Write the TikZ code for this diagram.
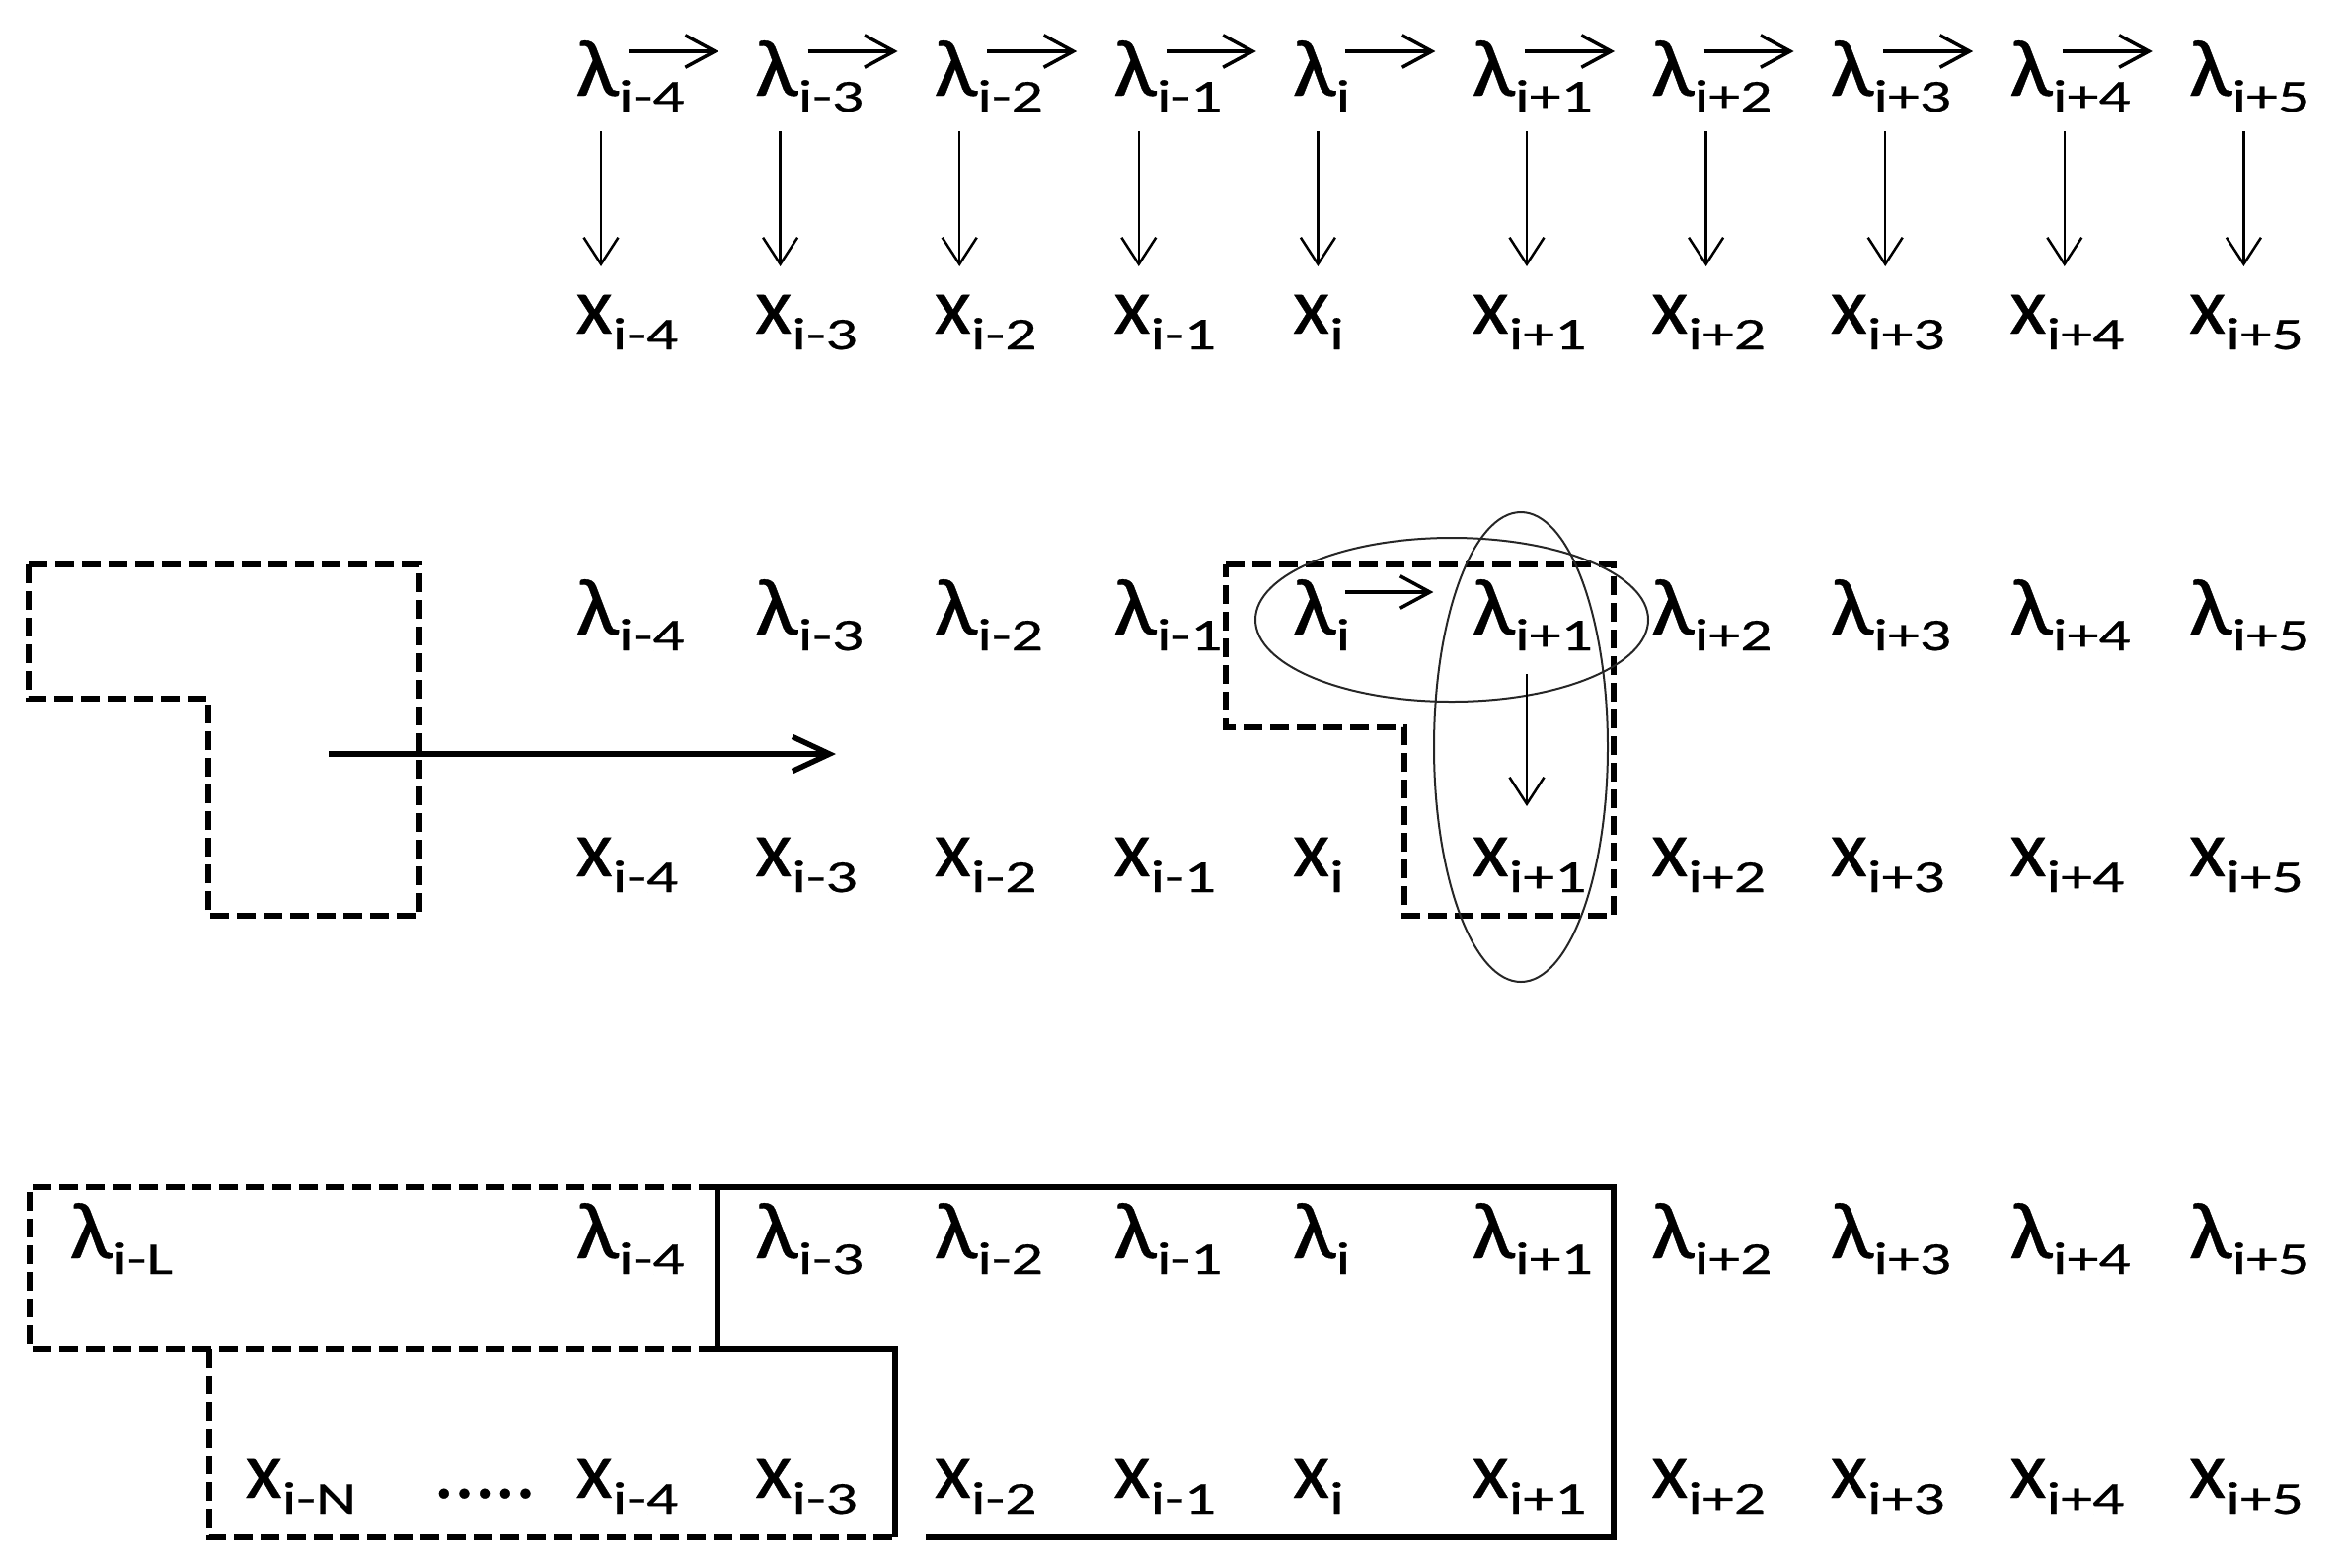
\documentclass[tikz,border=0pt]{standalone}
\usepackage{fontspec}
\usepackage{graphicx}
\setmainfont{Carlito}
\newfontfamily\lblfont{Carlito}[FakeBold=0.4]
\usetikzlibrary{arrows.meta}
\newcommand{\mainsz}{\lblfont\fontsize{32.8pt}{36pt}\selectfont}
\newcommand{\subsz}{\fontsize{18.5pt}{20pt}\selectfont}
\newcommand{\lam}[1]{\scalebox{1.15}[1]{λ}\raisebox{-6.4pt}{\scalebox{1.38}[1]{\subsz #1}}}
\newcommand{\xv}[1]{\scalebox{1.05}[1]{x}\raisebox{-6.4pt}{\scalebox{1.38}[1]{\subsz #1}}}
\begin{document}
\begin{tikzpicture}[x=0.4pt,y=-0.4pt,
  lbl/.style={anchor=base west,inner sep=0pt,font=\mainsz},
  overarr/.style={line width=1.4pt,-{Straight Barb[length=12pt,width=13pt]}},
  darr/.style={line width=1pt,-{Straight Barb[length=10.8pt,width=14pt]}},
  bigarr/.style={line width=2.2pt,-{Straight Barb[length=15pt,width=14pt]}},
  dashbox/.style={line width=2.4pt,dash pattern=on 7.6pt off 3.2pt,line join=miter},
  solidbox/.style={line width=2.2pt,line join=miter},
  grp/.style={line width=0.8pt,draw=black!85}]
\useasboundingbox (0,0) rectangle (2373,1588);

% ---------- row 1 ----------
\foreach \k/\s in {0/i-4,1/i-3,2/i-2,3/i-1,4/i,5/i+1,6/i+2,7/i+3,8/i+4,9/i+5}{
  \node[lbl] (La\k) at ({583+181.6*\k},97) {\lam{\s}};
  \node[lbl] (Xa\k) at ({583+181.6*\k},338) {\xv{\s}};
}
\foreach \k in {0,...,8}{
  \draw[overarr] ([shift={(54,-45)}]La\k.base west) -- ([shift={(145,-45)}]La\k.base west);
}
\foreach \k in {0,...,4}{
  \draw[darr] ([shift={(26,36)}]La\k.base west) -- ([shift={(26,-68)}]Xa\k.base west);
}
\foreach \k in {5,...,9}{
  \draw[darr] ([shift={(56,36)}]La\k.base west) -- ([shift={(56,-68)}]Xa\k.base west);
}

% ---------- row 2 ----------
\foreach \k/\s in {0/i-4,1/i-3,2/i-2,3/i-1,4/i,5/i+1,6/i+2,7/i+3,8/i+4,9/i+5}{
  \node[lbl] (Lb\k) at ({583+181.6*\k},643) {\lam{\s}};
  \node[lbl] (Xb\k) at ({583+181.6*\k},888) {\xv{\s}};
}
\draw[dashbox] (29,572) -- (425,572) -- (425,928) -- (211,928) -- (211,708) -- (29,708) -- cycle;
\coordinate (ta) at (333,764);
\coordinate (tb) at (847,764);
\draw[bigarr] (ta) -- (tb);
\draw[dashbox] (1242,572) -- (1635,572) -- (1635,928) -- (1423,928) -- (1423,737) -- (1242,737) -- cycle;
\draw[grp] (1471,628) ellipse [x radius=79.6pt, y radius=33.2pt];
\draw[grp] (1541,757) ellipse [x radius=35.2pt, y radius=95.2pt];
\draw[overarr] ([shift={(54,-43)}]Lb4.base west) -- ([shift={(143,-43)}]Lb4.base west);
\draw[darr] ([shift={(56,40)}]Lb5.base west) -- ([shift={(56,-71)}]Xb5.base west);

% ---------- row 3 ----------
\foreach \k/\s in {0/i-4,1/i-3,2/i-2,3/i-1,4/i,5/i+1,6/i+2,7/i+3,8/i+4,9/i+5}{
  \node[lbl] (Lc\k) at ({583+181.6*\k},1275) {\lam{\s}};
  \node[lbl] (Xc\k) at ({583+181.6*\k},1518) {\xv{\s}};
}
\node[lbl] (LcL) at (70,1275) {\lam{i-L}};
\node[lbl] (XcN) at (248,1518) {\xv{i-N}};
\node[lbl] (dots) at (439,1518) {.....};
\draw[dashbox] (727,1203) -- (30,1203) -- (30,1367) -- (727,1367);
\draw[dashbox] (212,1367) -- (212,1558) -- (905,1558);
\draw[solidbox] (938,1558) -- (1635,1558) -- (1635,1203) -- (727,1203) -- (727,1367) -- (907,1367) -- (907,1558);
\end{tikzpicture}
\end{document}
